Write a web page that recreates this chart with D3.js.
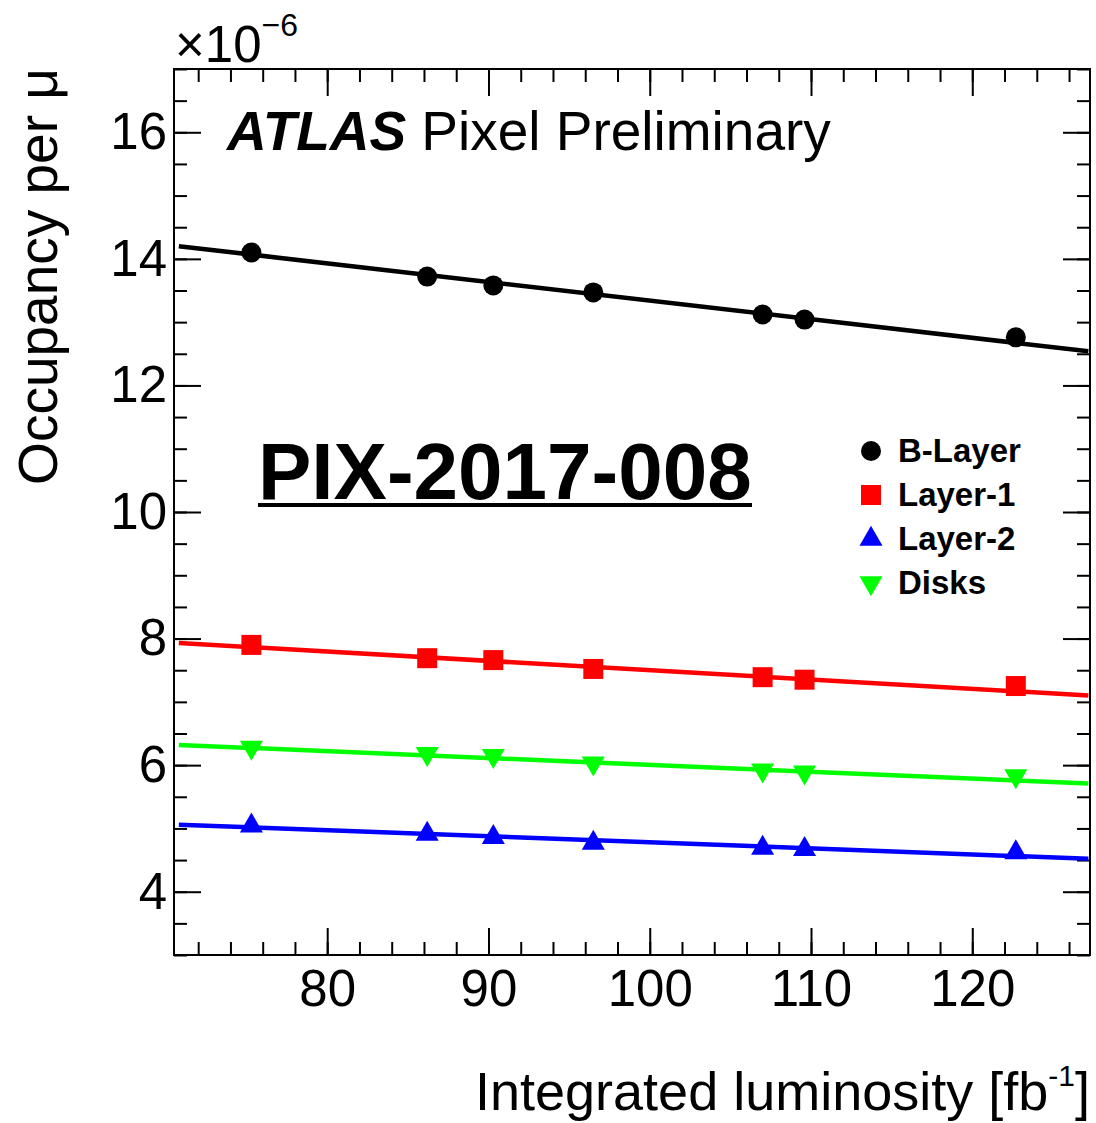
<!DOCTYPE html>
<html>
<head>
<meta charset="utf-8">
<script src="https://cdn.jsdelivr.net/npm/d3@7"></script>
<style>
  body { margin: 0; background: white; }
  text { font-family: "Liberation Sans", Arial, Helvetica, sans-serif; fill: black; }
</style>
</head>
<body>
<script>
// integrated luminosity of each measurement [fb^-1]
var lumi = [75.3, 86.2, 90.3, 96.5, 107.0, 109.6, 122.7];
// occupancy per mu, in units of 1e-6
var bLayer = [14.10, 13.72, 13.58, 13.47, 13.12, 13.04, 12.76];
var layer1 = [7.90, 7.69, 7.66, 7.52, 7.39, 7.35, 7.25];
var layer2 = [5.04, 4.91, 4.86, 4.77, 4.69, 4.67, 4.62];
var disks = [6.28, 6.18, 6.15, 6.03, 5.92, 5.89, 5.83];
// linear fits: value at each end of fitRange
var fitRange = [70.8, 127.2];
var bLayerFit = [14.20, 12.54];
var layer1Fit = [7.93, 7.10];
var layer2Fit = [5.06, 4.52];
var disksFit = [6.32, 5.71];

var xTicks = [80, 90, 100, 110, 120];
var yTicks = [4, 6, 8, 10, 12, 14, 16];

var width = 1096, height = 1123;
var frame = { left: 174, right: 1090, top: 69, bottom: 955 };

var svg = d3.select('body')
  .append('svg')
  .attr('width', width)
  .attr('height', height);

var x = d3.scaleLinear().domain([70.5, 127.3]).range([frame.left, frame.right]);
var y = d3.scaleLinear().domain([3, 17]).range([frame.bottom, frame.top]);

var series = [
  { name: 'B-Layer', values: bLayer, fit: bLayerFit, color: '#000000', symbol: d3.symbolCircle, size: 314, rot: 0 },
  { name: 'Layer-1', values: layer1, fit: layer1Fit, color: '#ff0000', symbol: d3.symbolSquare, size: 400, rot: 0 },
  { name: 'Layer-2', values: layer2, fit: layer2Fit, color: '#0000ff', symbol: d3.symbolTriangle, size: 230, rot: 0 },
  { name: 'Disks', values: disks, fit: disksFit, color: '#00ff00', symbol: d3.symbolTriangle, size: 230, rot: 180 }
];

// minor + major ticks on all four sides, pointing inwards
var minorX = d3.range(72, 127.3, 2);
var minorY = d3.range(3, 17.01, 0.5);
function tickAxis(axisFn, scale, pos, values, size, labels) {
  var a = axisFn(scale).tickValues(values).tickSize(-size);
  if (!labels) a.tickFormat('');
  var g = svg.append('g').attr('transform', pos).call(a);
  g.select('.domain').remove();
  g.selectAll('line').attr('stroke', 'black').attr('stroke-width', 2);
  return g;
}
tickAxis(d3.axisBottom, x, 'translate(0,' + frame.bottom + ')', minorX, 13, false);
var xAxis = tickAxis(d3.axisBottom, x, 'translate(0,' + frame.bottom + ')', xTicks, 27, true);
tickAxis(d3.axisTop, x, 'translate(0,' + frame.top + ')', minorX, 13, false);
tickAxis(d3.axisTop, x, 'translate(0,' + frame.top + ')', xTicks, 27, false);
tickAxis(d3.axisLeft, y, 'translate(' + frame.left + ',0)', minorY, 13, false);
var yAxis = tickAxis(d3.axisLeft, y, 'translate(' + frame.left + ',0)', yTicks, 27, true);
tickAxis(d3.axisRight, y, 'translate(' + frame.right + ',0)', minorY, 13, false);
tickAxis(d3.axisRight, y, 'translate(' + frame.right + ',0)', yTicks, 27, false);

xAxis.selectAll('text').attr('y', 15).style('font-size', '51px');
yAxis.selectAll('text').attr('x', -7).style('font-size', '51px');

svg.append('rect')
  .attr('x', frame.left).attr('y', frame.top)
  .attr('width', frame.right - frame.left)
  .attr('height', frame.bottom - frame.top)
  .attr('fill', 'none')
  .attr('stroke', 'black')
  .attr('stroke-width', 2);

// fit lines
var line = d3.line()
  .x(function(d) { return x(d[0]); })
  .y(function(d) { return y(d[1]); });

series.forEach(function(s) {
  svg.append('path')
    .attr('d', line([[fitRange[0], s.fit[0]], [fitRange[1], s.fit[1]]]))
    .attr('fill', 'none')
    .attr('stroke', s.color)
    .attr('stroke-width', 4.5);
});

// markers
series.forEach(function(s) {
  var sym = d3.symbol().type(s.symbol).size(s.size);
  svg.append('g').selectAll('path')
    .data(s.values)
    .enter()
    .append('path')
    .attr('d', sym)
    .attr('fill', s.color)
    .attr('transform', function(d, i) {
      return 'translate(' + x(lumi[i]) + ',' + y(d) + ') rotate(' + s.rot + ')';
    });
});

// legend
var legend = svg.append('g').attr('transform', 'translate(871,451)');
series.forEach(function(s, i) {
  var row = legend.append('g').attr('transform', 'translate(0,' + (i * 44) + ')');
  row.append('path')
    .attr('d', d3.symbol().type(s.symbol).size(s.size)())
    .attr('fill', s.color)
    .attr('transform', 'rotate(' + s.rot + ')');
  row.append('text')
    .attr('x', 27).attr('y', 11)
    .style('font-size', '33px')
    .style('font-weight', 'bold')
    .text(s.name);
});

// labels
var atlas = svg.append('text')
  .attr('x', 227).attr('y', 150)
  .style('font-size', '55px');
atlas.append('tspan').style('font-weight', 'bold').style('font-style', 'italic').text('ATLAS');
atlas.append('tspan').attr('dx', 15).text('Pixel Preliminary');

svg.append('text')
  .attr('x', 258).attr('y', 499)
  .style('font-size', '80px')
  .style('font-weight', 'bold')
  .text('PIX-2017-008');
svg.append('rect')
  .attr('x', 258).attr('y', 503)
  .attr('width', 494).attr('height', 4)
  .attr('fill', 'black');

var expo = svg.append('text')
  .attr('x', 175).attr('y', 62)
  .style('font-size', '51px');
expo.append('tspan').text('\u00d710');
expo.append('tspan').attr('dy', -26).style('font-size', '32px').text('\u22126');

// axis titles
var xTitle = svg.append('text')
  .attr('x', frame.right).attr('y', 1110)
  .attr('text-anchor', 'end')
  .style('font-size', '54px');
xTitle.append('tspan').text('Integrated luminosity [fb');
xTitle.append('tspan').attr('dy', -24).style('font-size', '30px').text('-1');
xTitle.append('tspan').attr('dy', 24).text(']');

svg.append('text')
  .attr('transform', 'translate(57,68) rotate(-90)')
  .attr('text-anchor', 'end')
  .style('font-size', '55px')
  .text('Occupancy per \u03bc');
</script>
</body>
</html>
